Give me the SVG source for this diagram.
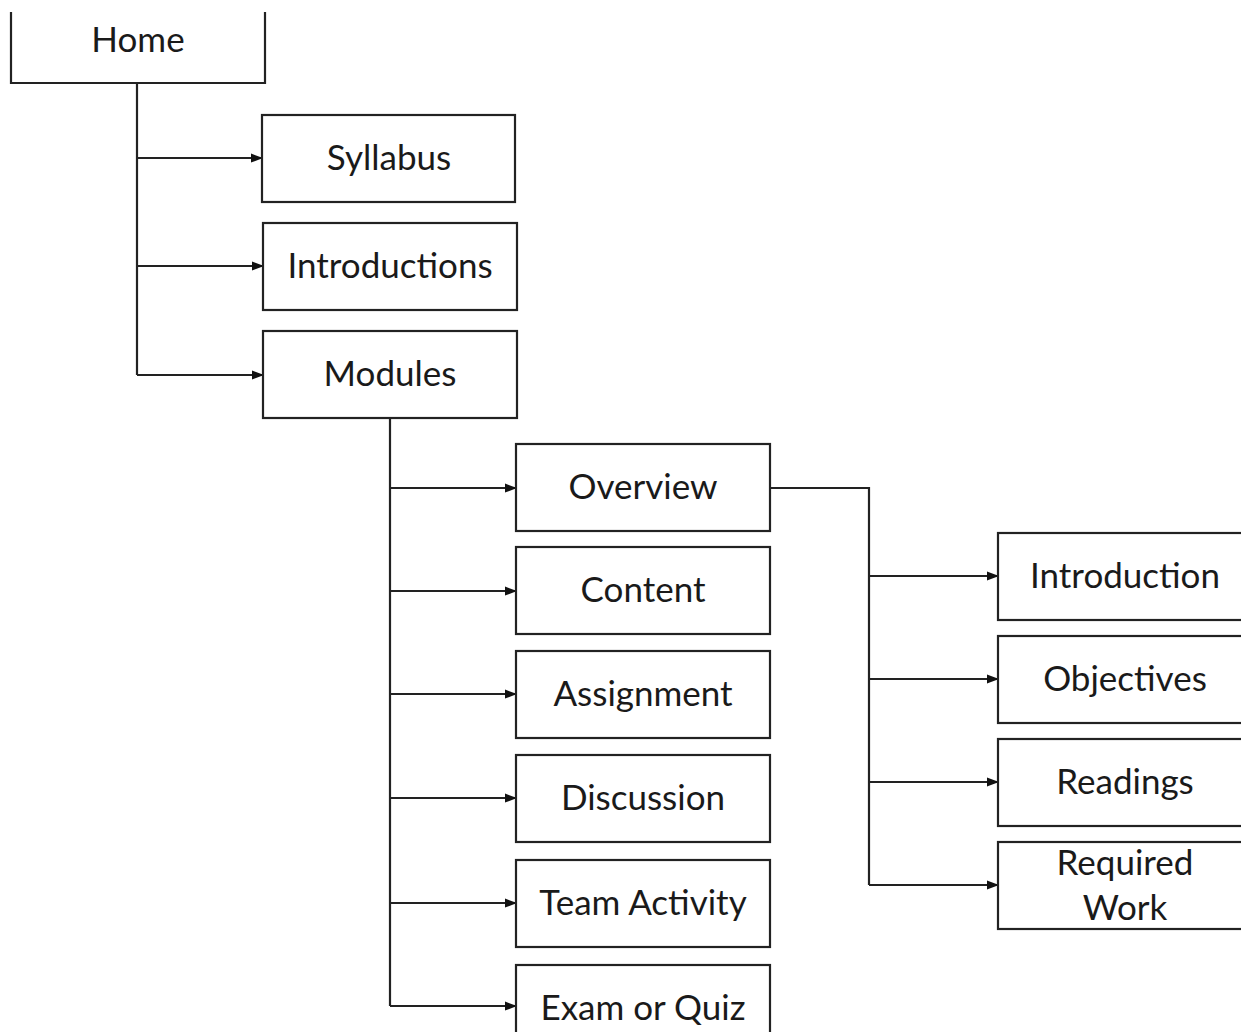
<svg xmlns="http://www.w3.org/2000/svg" width="1241" height="1032" viewBox="0 0 1241 1032">
<style>
.box{fill:#fff;stroke:#222;stroke-width:2.2}
.lbl{font-family:Lato,"Open Sans",sans-serif;font-size:35px;fill:#1a1a1a;text-anchor:middle}
.con{fill:none;stroke:#222;stroke-width:2.2}
</style>
<defs>
<marker id="ah" markerWidth="12" markerHeight="12" refX="11" refY="6" orient="auto" markerUnits="userSpaceOnUse">
<path d="M0,1.5 L12,6 L0,10.5 Z" fill="#111"/>
</marker>
</defs>
<rect width="1241" height="1032" fill="#fff"/>
<g id="connectors">
<path class="con" d="M137,83 V375"/>
<path class="con" d="M137,158 H262" marker-end="url(#ah)"/>
<path class="con" d="M137,266 H263" marker-end="url(#ah)"/>
<path class="con" d="M137,375 H263" marker-end="url(#ah)"/>
<path class="con" d="M390,418 V1006"/>
<path class="con" d="M390,488 H516" marker-end="url(#ah)"/>
<path class="con" d="M390,591 H516" marker-end="url(#ah)"/>
<path class="con" d="M390,694 H516" marker-end="url(#ah)"/>
<path class="con" d="M390,798 H516" marker-end="url(#ah)"/>
<path class="con" d="M390,903 H516" marker-end="url(#ah)"/>
<path class="con" d="M390,1006 H516" marker-end="url(#ah)"/>
<path class="con" d="M770,488 H869 V885"/>
<path class="con" d="M869,576 H998" marker-end="url(#ah)"/>
<path class="con" d="M869,679 H998" marker-end="url(#ah)"/>
<path class="con" d="M869,782 H998" marker-end="url(#ah)"/>
<path class="con" d="M869,885 H998" marker-end="url(#ah)"/>
</g>
<g id="home">
<path class="box" d="M11,12 V83 H265 V12"/>
<text class="lbl" x="138" y="52">Home</text>
</g>
<g id="syllabus"><rect class="box" x="262" y="115" width="253" height="87"/><text class="lbl" x="389" y="170">Syllabus</text></g>
<g id="introductions"><rect class="box" x="263" y="223" width="254" height="87"/><text class="lbl" x="390" y="278">Introductions</text></g>
<g id="modules"><rect class="box" x="263" y="331" width="254" height="87"/><text class="lbl" x="390" y="386">Modules</text></g>
<g id="overview"><rect class="box" x="516" y="444" width="254" height="87"/><text class="lbl" x="643" y="499">Overview</text></g>
<g id="content"><rect class="box" x="516" y="547" width="254" height="87"/><text class="lbl" x="643" y="602">Content</text></g>
<g id="assignment"><rect class="box" x="516" y="651" width="254" height="87"/><text class="lbl" x="643" y="706">Assignment</text></g>
<g id="discussion"><rect class="box" x="516" y="755" width="254" height="87"/><text class="lbl" x="643" y="810">Discussion</text></g>
<g id="team-activity"><rect class="box" x="516" y="860" width="254" height="87"/><text class="lbl" x="643" y="915">Team Activity</text></g>
<g id="exam-or-quiz"><rect class="box" x="516" y="965" width="254" height="87"/><text class="lbl" x="643" y="1020">Exam or Quiz</text></g>
<g id="introduction"><rect class="box" x="998" y="533" width="260" height="87"/><text class="lbl" x="1125" y="588">Introduction</text></g>
<g id="objectives"><rect class="box" x="998" y="636" width="260" height="87"/><text class="lbl" x="1125" y="691">Objectives</text></g>
<g id="readings"><rect class="box" x="998" y="739" width="260" height="87"/><text class="lbl" x="1125" y="794">Readings</text></g>
<g id="required-work"><rect class="box" x="998" y="842" width="260" height="87"/><text class="lbl" x="1125" y="875">Required</text><text class="lbl" x="1125" y="920">Work</text></g>
</svg>
